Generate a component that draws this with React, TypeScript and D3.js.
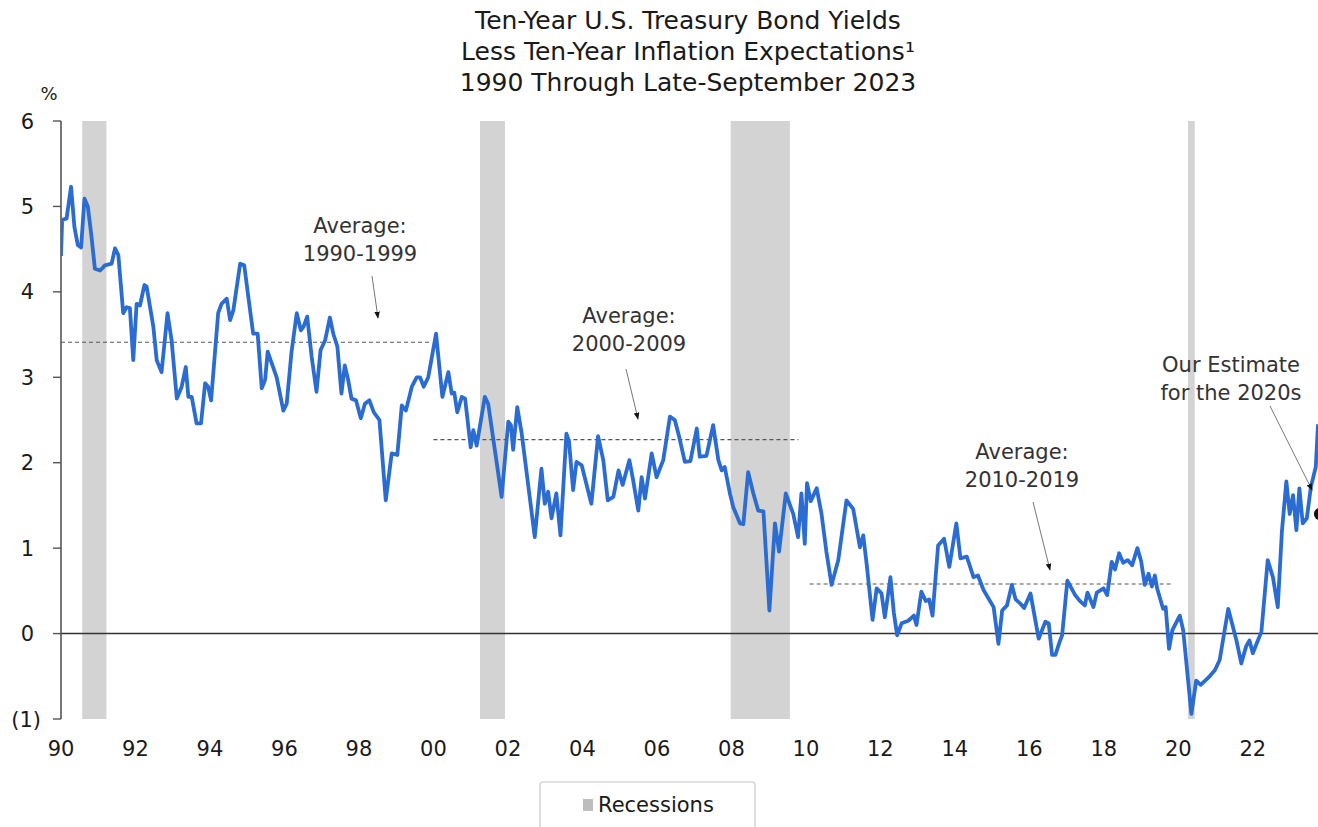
import React from "react";
import * as d3 from "d3";

const years: number[] = [
  1990.0, 1990.03, 1990.15, 1990.27, 1990.36, 1990.45, 1990.54, 1990.63, 1990.72, 1990.81, 1990.91,
  1991.05, 1991.18, 1991.36, 1991.45, 1991.54, 1991.67, 1991.76, 1991.85, 1991.94, 1992.03, 1992.12,
  1992.24, 1992.3, 1992.48, 1992.57, 1992.7, 1992.86, 1992.97, 1993.11, 1993.24, 1993.35, 1993.42,
  1993.51, 1993.64, 1993.76, 1993.87, 1993.95, 1994.03, 1994.22, 1994.31, 1994.45, 1994.54, 1994.63,
  1994.81, 1994.92, 1995.03, 1995.16, 1995.28, 1995.39, 1995.48, 1995.55, 1995.79, 1995.97, 1996.06,
  1996.19, 1996.33, 1996.44, 1996.51, 1996.61, 1996.73, 1996.86, 1996.97, 1997.09, 1997.22, 1997.31,
  1997.42, 1997.53, 1997.62, 1997.71, 1997.8, 1997.92, 1998.05, 1998.16, 1998.28, 1998.4, 1998.55,
  1998.72, 1998.88, 1999.03, 1999.15, 1999.26, 1999.42, 1999.55, 1999.64, 1999.74, 1999.86, 2000.07,
  2000.24, 2000.4, 2000.49, 2000.56, 2000.64, 2000.76, 2000.85, 2001.0, 2001.07, 2001.16, 2001.38,
  2001.47, 2001.83, 2002.01, 2002.08, 2002.14, 2002.25, 2002.37, 2002.72, 2002.9, 2002.99, 2003.08,
  2003.17, 2003.3, 2003.41, 2003.57, 2003.64, 2003.75, 2003.84, 2003.98, 2004.24, 2004.42, 2004.56,
  2004.68, 2004.83, 2004.97, 2005.08, 2005.26, 2005.36, 2005.5, 2005.59, 2005.68, 2005.86, 2005.99,
  2006.17, 2006.35, 2006.48, 2006.6, 2006.75, 2006.9, 2007.07, 2007.15, 2007.33, 2007.51, 2007.65,
  2007.74, 2007.82, 2007.96, 2008.05, 2008.23, 2008.32, 2008.45, 2008.59, 2008.72, 2008.86, 2009.02,
  2009.17, 2009.28, 2009.46, 2009.66, 2009.79, 2009.88, 2009.97, 2010.03, 2010.13, 2010.29, 2010.42,
  2010.55, 2010.69, 2010.87, 2011.09, 2011.27, 2011.45, 2011.54, 2011.63, 2011.79, 2011.9, 2012.03,
  2012.12, 2012.27, 2012.36, 2012.45, 2012.57, 2012.75, 2012.9, 2012.97, 2013.1, 2013.22, 2013.31,
  2013.4, 2013.55, 2013.71, 2013.85, 2014.04, 2014.15, 2014.32, 2014.5, 2014.62, 2014.77, 2015.04,
  2015.17, 2015.27, 2015.4, 2015.53, 2015.63, 2015.76, 2015.86, 2016.03, 2016.25, 2016.43, 2016.52,
  2016.61, 2016.7, 2016.81, 2016.88, 2017.02, 2017.23, 2017.36, 2017.49, 2017.56, 2017.72, 2017.81,
  2017.99, 2018.09, 2018.21, 2018.3, 2018.41, 2018.52, 2018.64, 2018.76, 2018.9, 2019.0, 2019.1,
  2019.2, 2019.29, 2019.37, 2019.43, 2019.59, 2019.66, 2019.75, 2019.84, 2020.04, 2020.13, 2020.35,
  2020.48, 2020.6, 2020.72, 2020.84, 2020.98, 2021.11, 2021.34, 2021.56, 2021.69, 2021.82, 2021.91,
  2022.0, 2022.1, 2022.23, 2022.4, 2022.54, 2022.67, 2022.78, 2022.9, 2022.99, 2023.08, 2023.17,
  2023.25, 2023.34, 2023.45, 2023.56, 2023.69, 2023.75,
];

const realYield: number[] = [
  4.42, 4.84, 4.86, 5.23, 4.76, 4.55, 4.52, 5.09, 5.0, 4.68, 4.27,
  4.25, 4.31, 4.33, 4.51, 4.43, 3.75, 3.82, 3.81, 3.2, 3.86, 3.84,
  4.08, 4.06, 3.59, 3.2, 3.06, 3.75, 3.43, 2.75, 2.89, 3.12, 2.77,
  2.77, 2.46, 2.46, 2.93, 2.89, 2.73, 3.75, 3.86, 3.92, 3.67, 3.79,
  4.33, 4.31, 3.94, 3.51, 3.51, 2.87, 2.97, 3.3, 3.0, 2.61, 2.69,
  3.3, 3.75, 3.55, 3.59, 3.71, 3.24, 2.83, 3.32, 3.43, 3.7, 3.51,
  3.36, 2.81, 3.14, 2.97, 2.75, 2.73, 2.52, 2.69, 2.73, 2.59, 2.5,
  1.56, 2.11, 2.09, 2.67, 2.61, 2.89, 3.0, 3.0, 2.89, 3.0, 3.51,
  2.77, 3.06, 2.81, 2.82, 2.59, 2.77, 2.75, 2.18, 2.38, 2.2, 2.77,
  2.69, 1.6, 2.48, 2.44, 2.15, 2.65, 2.34, 1.13, 1.93, 1.52, 1.66,
  1.35, 1.64, 1.15, 2.34, 2.25, 1.68, 2.01, 1.97, 1.52, 2.31, 2.03,
  1.56, 1.6, 1.91, 1.74, 2.03, 1.8, 1.44, 1.83, 1.58, 2.11, 1.83,
  2.03, 2.54, 2.5, 2.3, 2.01, 2.02, 2.4, 2.07, 2.08, 2.44, 2.03,
  1.91, 1.95, 1.64, 1.48, 1.29, 1.28, 1.89, 1.64, 1.44, 1.43, 0.27,
  1.29, 0.96, 1.64, 1.4, 1.13, 1.64, 1.05, 1.76, 1.55, 1.7, 1.4,
  0.96, 0.57, 0.86, 1.56, 1.46, 1.01, 1.15, 0.82, 0.16, 0.53, 0.47,
  0.19, 0.66, 0.25, -0.02, 0.12, 0.15, 0.21, 0.1, 0.49, 0.38, 0.4,
  0.21, 1.03, 1.11, 0.78, 1.29, 0.88, 0.9, 0.66, 0.68, 0.51, 0.31,
  -0.12, 0.27, 0.33, 0.57, 0.4, 0.35, 0.3, 0.47, -0.06, 0.14, 0.12,
  -0.25, -0.25, -0.1, -0.02, 0.62, 0.45, 0.38, 0.33, 0.48, 0.31, 0.48,
  0.53, 0.45, 0.84, 0.75, 0.94, 0.83, 0.86, 0.8, 1.0, 0.85, 0.57,
  0.7, 0.55, 0.68, 0.53, 0.29, 0.31, -0.18, 0.04, 0.21, 0.04, -0.94,
  -0.55, -0.6, -0.55, -0.5, -0.43, -0.31, 0.29, -0.08, -0.35, -0.15, -0.08,
  -0.23, -0.12, 0.02, 0.86, 0.66, 0.31, 1.19, 1.78, 1.4, 1.62, 1.21,
  1.7, 1.29, 1.35, 1.72, 1.95, 2.45,
];

const recessionStart: number[] = [1990.57, 2001.25, 2007.98, 2020.26];
const recessionEnd: number[] = [1991.22, 2001.92, 2009.57, 2020.44];

const avgLabels: string[] = ["1990-1999", "2000-2009", "2010-2019"];
const avgValues: number[] = [3.41, 2.27, 0.58];
const avgFrom: number[] = [1990.0, 2000.0, 2010.1];
const avgTo: number[] = [1999.9, 2009.8, 2019.87];

const estimateYear = 2023.8;
const estimateValue = 1.4;

const yTicks: number[] = [-1, 0, 1, 2, 3, 4, 5, 6];
const xTicks: number[] = [1990, 1992, 1994, 1996, 1998, 2000, 2002, 2004, 2006, 2008, 2010, 2012, 2014, 2016, 2018, 2020, 2022];

const titleLines: string[] = [
  "Ten-Year U.S. Treasury Bond Yields",
  "Less Ten-Year Inflation Expectations\u00B9",
  "1990 Through Late-September 2023",
];

const W = 1318;
const H = 827;
const FONT = "'DejaVu Sans', Verdana, sans-serif";

export default function App() {
  const x = d3.scaleLinear().domain([1990, 2023.75]).range([61, 1318]);
  const y = d3.scaleLinear().domain([-1, 6]).range([719, 121]);
  const data = years.map((t, i) => [t, realYield[i]] as [number, number]);
  const line = d3
    .line<[number, number]>()
    .x((d) => x(d[0]))
    .y((d) => y(d[1]))
    .curve(d3.curveLinear);

  const fmtY = (v: number) => (v < 0 ? `(${Math.abs(v)})` : `${v}`);
  const fmtX = (v: number) => String(v % 100).padStart(2, "0");

  const avgNotes = [
    { cx: 360, ty: 233, ax1: 372, ay1: 276, ax2: 378, ay2: 318 },
    { cx: 629, ty: 323, ax1: 626, ay1: 369, ax2: 638, ay2: 419 },
    { cx: 1022, ty: 459, ax1: 1033, ay1: 502, ax2: 1050, ay2: 570 },
  ];

  return (
    <svg
      width={W}
      height={H}
      style={{ position: "absolute", left: 0, top: 0, background: "#fff" }}
      fontFamily={FONT}
    >
      <defs>
        <marker id="ah" viewBox="0 0 10 10" refX="9" refY="5" markerWidth="7" markerHeight="7" orient="auto-start-reverse">
          <path d="M0,1 L10,5 L0,9 z" fill="#111" />
        </marker>
        <clipPath id="plot">
          <rect x={61} y={100} width={W - 61} height={640} />
        </clipPath>
      </defs>

      {titleLines.map((s, i) => (
        <text key={i} x={688} y={29 + i * 31} textAnchor="middle" fontSize={25} fill="#1a1a1a">
          {s}
        </text>
      ))}

      {recessionStart.map((s, i) => (
        <rect key={i} x={x(s)} y={y(6)} width={x(recessionEnd[i]) - x(s)} height={y(-1) - y(6)} fill="#d3d3d3" />
      ))}

      {avgValues.map((v, i) => (
        <line key={i} x1={x(avgFrom[i])} x2={x(avgTo[i])} y1={y(v)} y2={y(v)} stroke="#555" strokeWidth={1.1} strokeDasharray="4,3" />
      ))}

      <line x1={x(1990)} x2={W} y1={y(0)} y2={y(0)} stroke="#333" strokeWidth={1.6} />

      <line x1={61} x2={61} y1={y(6)} y2={y(-1)} stroke="#555" strokeWidth={1.6} />
      {yTicks.map((t) => (
        <g key={t}>
          <line x1={53} x2={61} y1={y(t)} y2={y(t)} stroke="#555" strokeWidth={1.4} />
          <text x={t < 0 ? 41 : 34} y={y(t) + 7.5} textAnchor="end" fontSize={21} fill="#1a1a1a">
            {fmtY(t)}
          </text>
        </g>
      ))}
      <text x={49} y={100} textAnchor="middle" fontSize={18} fill="#1a1a1a">%</text>

      {xTicks.map((t) => (
        <text key={t} x={x(t)} y={756} textAnchor="middle" fontSize={21} fill="#1a1a1a">
          {fmtX(t)}
        </text>
      ))}

      <path d={line(data) || ""} fill="none" stroke="#2b6cd3" strokeWidth={3.8} strokeLinejoin="round" clipPath="url(#plot)" />

      <circle cx={x(estimateYear)} cy={y(estimateValue)} r={6} fill="#111" />

      {avgNotes.map((n, i) => (
        <g key={i}>
          <text x={n.cx} y={n.ty} textAnchor="middle" fontSize={21} fill="#333">Average:</text>
          <text x={n.cx} y={n.ty + 28} textAnchor="middle" fontSize={21} fill="#333">{avgLabels[i]}</text>
          <line x1={n.ax1} y1={n.ay1} x2={n.ax2} y2={n.ay2} stroke="#777" strokeWidth={1} markerEnd="url(#ah)" />
        </g>
      ))}
      <text x={1231} y={372} textAnchor="middle" fontSize={21} fill="#333">Our Estimate</text>
      <text x={1231} y={400} textAnchor="middle" fontSize={21} fill="#333">for the 2020s</text>
      <line x1={1270} y1={406} x2={1312} y2={490} stroke="#777" strokeWidth={1} markerEnd="url(#ah)" />

      <rect x={540} y={782} width={215} height={60} rx={3} fill="#fff" stroke="#c8c8c8" strokeWidth={1.2} />
      <rect x={583} y={799} width={10} height={12} fill="#bdbdbd" />
      <text x={598} y={812} fontSize={21} fill="#1a1a1a">Recessions</text>
    </svg>
  );
}
